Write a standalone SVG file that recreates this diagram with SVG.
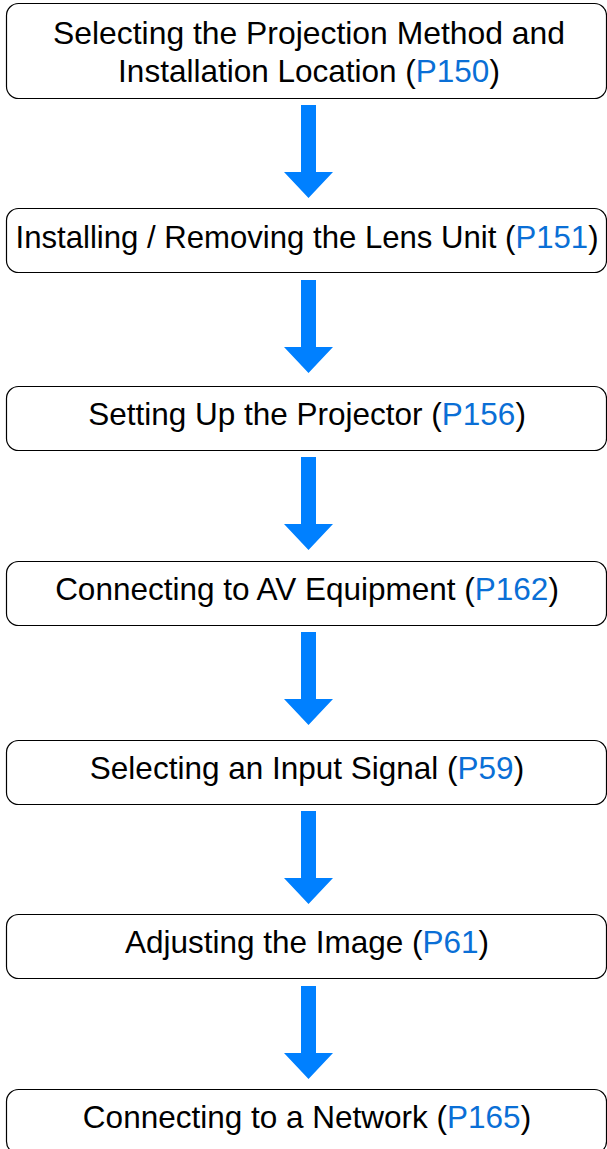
<svg xmlns="http://www.w3.org/2000/svg" width="607" height="1149" viewBox="0 0 607 1149">
<style>
.box{fill:#fff;stroke:#000;stroke-width:1.2}
.t{font-family:"Liberation Sans",Arial,sans-serif;font-size:31.5px;fill:#000;text-anchor:middle}
.p{fill:#0a6fd6}
.arr{fill:#0080ff}
</style>
<defs>
<path id="a" d="M301,0 H316 V67 H333 L308.5,93 L284,67 H301 Z"/>
</defs>
<rect width="607" height="1149" fill="#fff"/>
<g id="connectors">
<use href="#a" class="arr" y="105"/>
<use href="#a" class="arr" y="280"/>
<use href="#a" class="arr" y="457"/>
<use href="#a" class="arr" y="632"/>
<use href="#a" class="arr" y="811"/>
<use href="#a" class="arr" y="986"/>
</g>
<g id="n1"><rect class="box" x="6.5" y="3.5" width="600" height="95" rx="12"/>
<text class="t" x="309" y="44" textLength="512" lengthAdjust="spacingAndGlyphs">Selecting the Projection Method and</text>
<text class="t" x="309" y="82">Installation Location (<tspan class="p">P150</tspan>)</text></g>
<g id="n2"><rect class="box" x="6.5" y="208.5" width="600" height="64" rx="12"/>
<text class="t" x="307" y="248" textLength="583" lengthAdjust="spacingAndGlyphs">Installing / Removing the Lens Unit (<tspan class="p">P151</tspan>)</text></g>
<g id="n3"><rect class="box" x="6.5" y="386.5" width="600" height="64" rx="12"/>
<text class="t" x="307" y="425">Setting Up the Projector (<tspan class="p">P156</tspan>)</text></g>
<g id="n4"><rect class="box" x="6.5" y="561.5" width="600" height="64" rx="12"/>
<text class="t" x="307" y="600">Connecting to AV Equipment (<tspan class="p">P162</tspan>)</text></g>
<g id="n5"><rect class="box" x="6.5" y="740.5" width="600" height="64" rx="12"/>
<text class="t" x="307" y="779">Selecting an Input Signal (<tspan class="p">P59</tspan>)</text></g>
<g id="n6"><rect class="box" x="6.5" y="914.5" width="600" height="64" rx="12"/>
<text class="t" x="307" y="953">Adjusting the Image (<tspan class="p">P61</tspan>)</text></g>
<g id="n7"><rect class="box" x="6.5" y="1089.5" width="600" height="64" rx="12"/>
<text class="t" x="307" y="1128">Connecting to a Network (<tspan class="p">P165</tspan>)</text></g>
</svg>
